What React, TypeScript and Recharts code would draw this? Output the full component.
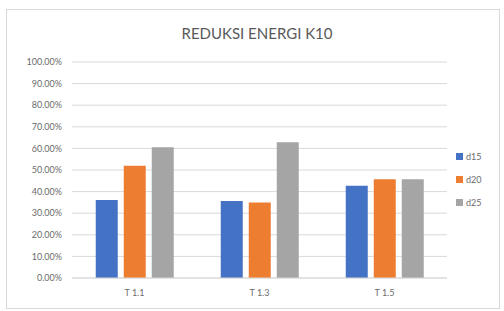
import React from 'react';
import { BarChart, Bar, XAxis, YAxis, CartesianGrid } from 'recharts';

const CATEGORIES = ['T 1.1', 'T 1.3', 'T 1.5'];
const D15 = [0.361, 0.356, 0.427];
const D20 = [0.52, 0.349, 0.457];
const D25 = [0.605, 0.628, 0.457];
const Y_TICKS = [0, 0.1, 0.2, 0.3, 0.4, 0.5, 0.6, 0.7, 0.8, 0.9, 1];

const SERIES = [
  { key: 'd15', color: '#4472C4' },
  { key: 'd20', color: '#ED7D31' },
  { key: 'd25', color: '#A5A5A5' },
];

const data = CATEGORIES.map((name, i) => ({ name, d15: D15[i], d20: D20[i], d25: D25[i] }));

const FONT = 'Lato, "Open Sans", sans-serif';
const TEXT = '#6b6b6b';

const LegendBox = () => (
  <div style={{ position: 'absolute', left: 456, top: 145, fontFamily: FONT, fontSize: 9, color: TEXT }}>
    {SERIES.map((s) => (
      <div key={s.key} style={{ display: 'flex', alignItems: 'center', height: 23 }}>
        <span style={{ width: 7, height: 7, background: s.color, marginRight: 3 }} />
        <span>{s.key}</span>
      </div>
    ))}
  </div>
);

export default function App() {
  return (
    <div style={{ position: 'absolute', left: 0, top: 0, width: 504, height: 311, background: '#fff' }}>
      <div
        style={{
          position: 'absolute',
          left: 6,
          top: 9,
          width: 494,
          height: 300,
          border: '1px solid #d9d9d9',
          boxSizing: 'border-box',
        }}
      />
      <div
        style={{
          position: 'absolute',
          top: 24,
          left: 0,
          width: 514,
          textAlign: 'center',
          fontFamily: FONT,
          fontSize: 15,
          color: '#595959',
        }}
      >
        REDUKSI ENERGI K10
      </div>
      <div style={{ position: 'absolute', left: 0, top: 0 }}>
        <BarChart
          width={504}
          height={311}
          data={data}
          margin={{ top: 62, right: 57, bottom: 3, left: 0 }}
          barGap={6}
          barCategoryGap="19%"
        >
          <CartesianGrid vertical={false} stroke="#d9d9d9" />
          <XAxis
            dataKey="name"
            height={30}
            tickLine={false}
            axisLine={{ stroke: '#d9d9d9' }}
            tickSize={0}
            tickMargin={12}
            tick={{ fill: TEXT, fontSize: 9, fontFamily: FONT }}
          />
          <YAxis
            width={72}
            domain={[0, 1]}
            ticks={Y_TICKS}
            interval={0}
            tickLine={false}
            axisLine={false}
            tickSize={0}
            tickMargin={10}
            tickFormatter={(v: number) => `${(v * 100).toFixed(2)}%`}
            tick={{ fill: TEXT, fontSize: 9, fontFamily: FONT }}
          />
          {SERIES.map((s) => (
            <Bar key={s.key} dataKey={s.key} fill={s.color} isAnimationActive={false} />
          ))}
        </BarChart>
      </div>
      <LegendBox />
    </div>
  );
}
